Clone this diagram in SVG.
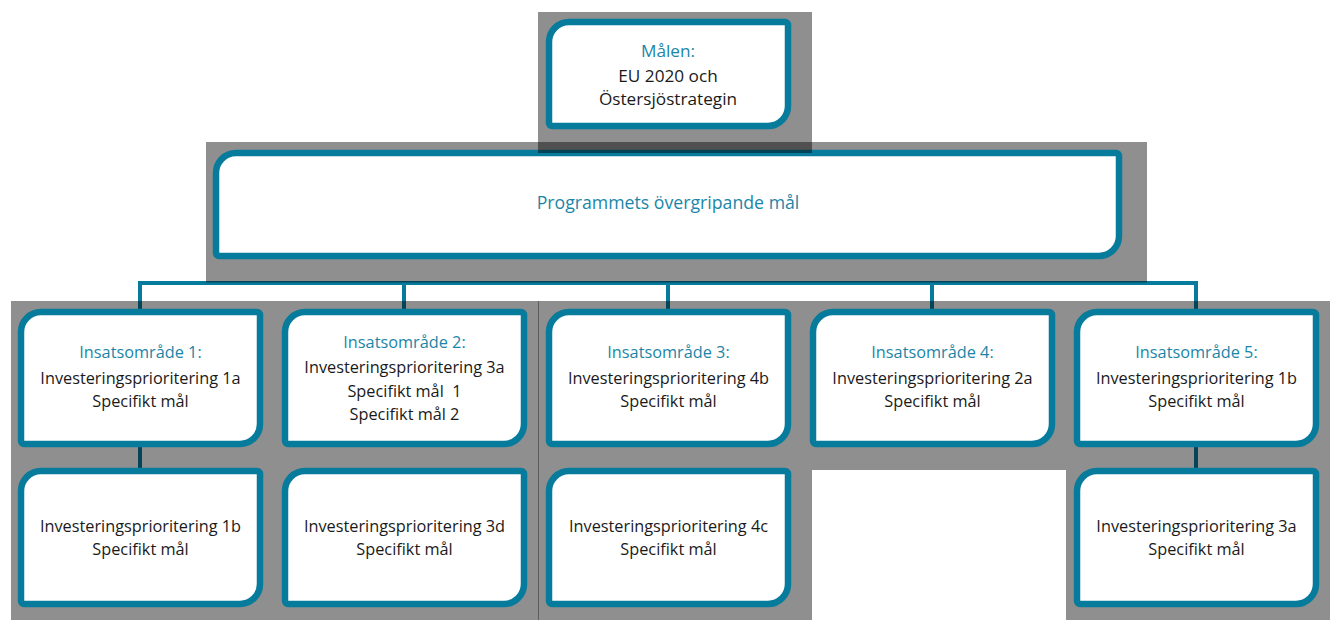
<svg xmlns="http://www.w3.org/2000/svg" width="1330" height="620" viewBox="0 0 1330 620">
<style>
.box{fill:#fff;stroke:#077b9b;stroke-width:6.5;stroke-linejoin:round}
.conn{stroke:#077b9b;stroke-width:4;fill:none}
.shade{fill:#000;fill-opacity:0.44}
text{font-family:"Open Sans","Liberation Sans",sans-serif;font-size:16.3px;text-anchor:middle;fill:#1a1a1a}
.hd{fill:#1b86a8}
.big{font-size:17.2px}
.title{font-size:17.7px}
</style>
<rect width="1330" height="620" fill="#fff"/>
<g id="connectors">
<line class="conn" x1="668" y1="281" x2="668" y2="283"/>
<line class="conn" x1="138" y1="283" x2="1198" y2="283"/>
<line class="conn" x1="140" y1="281" x2="140" y2="312"/>
<line class="conn" x1="404" y1="283" x2="404" y2="312"/>
<line class="conn" x1="668" y1="283" x2="668" y2="312"/>
<line class="conn" x1="932" y1="283" x2="932" y2="312"/>
<line class="conn" x1="1196" y1="281" x2="1196" y2="312"/>
<line class="conn" x1="140" y1="444" x2="140" y2="471"/>
<line class="conn" x1="1196" y1="444" x2="1196" y2="471"/>
</g>
<path class="shade" d="M11 301H1330V620H1066V470H812V620H11Z"/>
<line x1="538.5" y1="301" x2="538.5" y2="620" stroke="#000" stroke-opacity="0.35" stroke-width="1"/>
<rect class="shade" x="206" y="142" width="941" height="140.5"/>
<g id="n-program">
<path class="box" d="M236 153H1116a3 3 0 0 1 3 3V236a20 20 0 0 1 -20 20H219a3 3 0 0 1 -3 -3V173a20 20 0 0 1 20 -20Z"/>
<text class="hd title" x="668" y="209">Programmets övergripande mål</text>
</g>
<rect class="shade" x="538" y="12" width="274" height="141"/>
<g id="n-malen">
<path class="box" d="M569 22H785a3 3 0 0 1 3 3V106a20 20 0 0 1 -20 20H552a3 3 0 0 1 -3 -3V42a20 20 0 0 1 20 -20Z"/>
<text class="hd big" x="668" y="57">Målen:</text>
<text class="big" x="668" y="82">EU 2020 och</text>
<text class="big" x="668" y="105">Östersjöstrategin</text>
</g>
<g id="n-ia1">
<path class="box" d="M41 312H257a3 3 0 0 1 3 3V424a20 20 0 0 1 -20 20H24a3 3 0 0 1 -3 -3V332a20 20 0 0 1 20 -20Z"/>
<text class="hd" x="140.5" y="358">Insatsområde 1:</text>
<text x="140.5" y="384">Investeringsprioritering 1a</text>
<text x="140.5" y="407">Specifikt mål</text>
</g>
<g id="n-ia2">
<path class="box" d="M305 312H521a3 3 0 0 1 3 3V424a20 20 0 0 1 -20 20H288a3 3 0 0 1 -3 -3V332a20 20 0 0 1 20 -20Z"/>
<text class="hd" x="404.5" y="348">Insatsområde 2:</text>
<text x="404.5" y="373">Investeringsprioritering 3a</text>
<text x="404.5" y="397" xml:space="preserve">Specifikt mål  1</text>
<text x="404.5" y="420">Specifikt mål 2</text>
</g>
<g id="n-ia3">
<path class="box" d="M569 312H785a3 3 0 0 1 3 3V424a20 20 0 0 1 -20 20H552a3 3 0 0 1 -3 -3V332a20 20 0 0 1 20 -20Z"/>
<text class="hd" x="668.5" y="358">Insatsområde 3:</text>
<text x="668.5" y="384">Investeringsprioritering 4b</text>
<text x="668.5" y="407">Specifikt mål</text>
</g>
<g id="n-ia4">
<path class="box" d="M833 312H1049a3 3 0 0 1 3 3V424a20 20 0 0 1 -20 20H816a3 3 0 0 1 -3 -3V332a20 20 0 0 1 20 -20Z"/>
<text class="hd" x="932.5" y="358">Insatsområde 4:</text>
<text x="932.5" y="384">Investeringsprioritering 2a</text>
<text x="932.5" y="407">Specifikt mål</text>
</g>
<g id="n-ia5">
<path class="box" d="M1097 312H1313a3 3 0 0 1 3 3V424a20 20 0 0 1 -20 20H1080a3 3 0 0 1 -3 -3V332a20 20 0 0 1 20 -20Z"/>
<text class="hd" x="1196.5" y="358">Insatsområde 5:</text>
<text x="1196.5" y="384">Investeringsprioritering 1b</text>
<text x="1196.5" y="407">Specifikt mål</text>
</g>
<g id="n-ip1b">
<path class="box" d="M41 471H257a3 3 0 0 1 3 3V584a20 20 0 0 1 -20 20H24a3 3 0 0 1 -3 -3V491a20 20 0 0 1 20 -20Z"/>
<text x="140.5" y="532">Investeringsprioritering 1b</text>
<text x="140.5" y="555">Specifikt mål</text>
</g>
<g id="n-ip3d">
<path class="box" d="M305 471H521a3 3 0 0 1 3 3V584a20 20 0 0 1 -20 20H288a3 3 0 0 1 -3 -3V491a20 20 0 0 1 20 -20Z"/>
<text x="404.5" y="532">Investeringsprioritering 3d</text>
<text x="404.5" y="555">Specifikt mål</text>
</g>
<g id="n-ip4c">
<path class="box" d="M569 471H785a3 3 0 0 1 3 3V584a20 20 0 0 1 -20 20H552a3 3 0 0 1 -3 -3V491a20 20 0 0 1 20 -20Z"/>
<text x="668.5" y="532">Investeringsprioritering 4c</text>
<text x="668.5" y="555">Specifikt mål</text>
</g>
<g id="n-ip3a">
<path class="box" d="M1097 471H1313a3 3 0 0 1 3 3V584a20 20 0 0 1 -20 20H1080a3 3 0 0 1 -3 -3V491a20 20 0 0 1 20 -20Z"/>
<text x="1196.5" y="532">Investeringsprioritering 3a</text>
<text x="1196.5" y="555">Specifikt mål</text>
</g>
</svg>
